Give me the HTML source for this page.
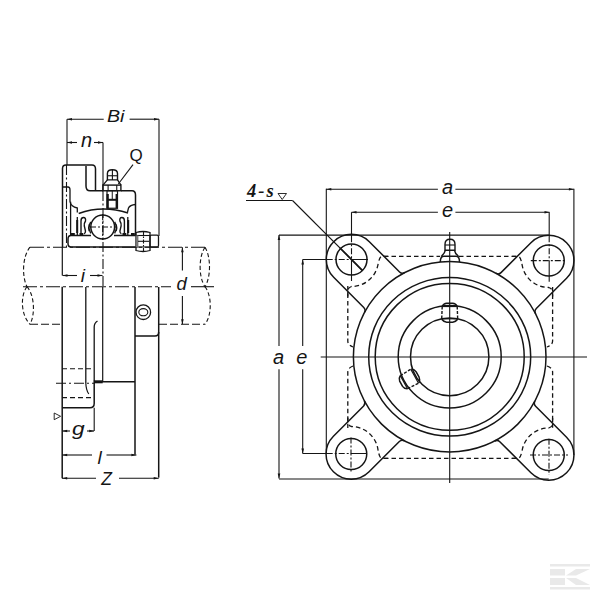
<!DOCTYPE html>
<html><head><meta charset="utf-8"><style>
html,body{margin:0;padding:0;background:#fff;width:600px;height:600px;overflow:hidden}
svg{display:block}
</style></head><body>
<svg width="600" height="600" viewBox="0 0 600 600" stroke="#151515" fill="none" stroke-linecap="butt">
<line x1="279.00" y1="235.10" x2="548.75" y2="235.10" stroke-width="1.1"/>
<line x1="279.00" y1="479.00" x2="548.75" y2="479.00" stroke-width="1.1"/>
<line x1="326.30" y1="188.75" x2="326.30" y2="454.00" stroke-width="1.1"/>
<line x1="573.90" y1="188.75" x2="573.90" y2="455.00" stroke-width="1.1"/>
<line x1="326.00" y1="189.20" x2="437.90" y2="189.20" stroke-width="1.1"/>
<line x1="455.40" y1="189.20" x2="573.75" y2="189.20" stroke-width="1.1"/>
<text transform="translate(442 193.5) scale(1.0 1)" font-family="Liberation Sans" font-size="20" font-style="italic" font-weight="normal" letter-spacing="0" fill="#151515" stroke="none">a</text>
<line x1="351.50" y1="212.20" x2="437.90" y2="212.20" stroke-width="1.1"/>
<line x1="455.40" y1="212.20" x2="549.50" y2="212.20" stroke-width="1.1"/>
<line x1="351.50" y1="212.20" x2="351.50" y2="281.00" stroke-width="1.1" stroke-dasharray="30,2,2,2,6,2,2,2"/>
<line x1="549.20" y1="212.20" x2="549.20" y2="281.70" stroke-width="1.1" stroke-dasharray="30,2,2,2,6,2,2,2"/>
<text transform="translate(442 216.8) scale(1.0 1)" font-family="Liberation Sans" font-size="20" font-style="italic" font-weight="normal" letter-spacing="0" fill="#151515" stroke="none">e</text>
<line x1="279.00" y1="235.10" x2="279.00" y2="346.00" stroke-width="1.1"/>
<line x1="279.00" y1="369.30" x2="279.00" y2="478.60" stroke-width="1.1"/>
<text transform="translate(273 363.7) scale(1.0 1)" font-family="Liberation Sans" font-size="20" font-style="italic" font-weight="normal" letter-spacing="0" fill="#151515" stroke="none">a</text>
<line x1="302.70" y1="259.50" x2="302.70" y2="346.00" stroke-width="1.1"/>
<line x1="302.70" y1="369.30" x2="302.70" y2="453.50" stroke-width="1.1"/>
<line x1="302.70" y1="259.50" x2="368.00" y2="259.50" stroke-width="1.1" stroke-dasharray="30,2,2,2,6,2,2,2"/>
<line x1="302.70" y1="453.50" x2="367.00" y2="453.50" stroke-width="1.1" stroke-dasharray="30,2,2,2,6,2,2,2"/>
<text transform="translate(296.3 363.7) scale(1.0 1)" font-family="Liberation Sans" font-size="20" font-style="italic" font-weight="normal" letter-spacing="0" fill="#151515" stroke="none">e</text>
<line x1="530.80" y1="260.60" x2="566.70" y2="260.60" stroke-width="1.1" stroke-dasharray="6,2,2,2"/>
<line x1="530.00" y1="455.00" x2="568.00" y2="455.00" stroke-width="1.1" stroke-dasharray="6,2,2,2"/>
<line x1="549.00" y1="438.70" x2="549.00" y2="475.00" stroke-width="1.1" stroke-dasharray="6,2,2,2"/>
<line x1="351.00" y1="437.50" x2="351.00" y2="472.50" stroke-width="1.1" stroke-dasharray="6,2,2,2"/>
<line x1="320.70" y1="357.00" x2="587.00" y2="357.00" stroke-width="1.1"/>
<line x1="449.70" y1="232.00" x2="449.70" y2="483.00" stroke-width="1.1"/>
<ellipse cx="449.70" cy="356.80" rx="96.30" ry="95.20" stroke-width="1.5" fill="none"/>
<ellipse cx="449.70" cy="356.80" rx="81.00" ry="79.20" stroke-width="1.5" fill="none"/>
<ellipse cx="449.70" cy="356.80" rx="74.50" ry="73.40" stroke-width="1.5" fill="none"/>
<ellipse cx="449.70" cy="356.80" rx="51.50" ry="51.20" stroke-width="1.5" fill="none"/>
<ellipse cx="449.70" cy="356.80" rx="39.20" ry="38.90" stroke-width="1.5" fill="none"/>
<ellipse cx="351.50" cy="259.50" rx="15.50" ry="15.50" stroke-width="1.5" fill="none"/>
<ellipse cx="548.75" cy="260.50" rx="15.50" ry="15.50" stroke-width="1.5" fill="none"/>
<ellipse cx="351.25" cy="454.00" rx="15.50" ry="15.50" stroke-width="1.5" fill="none"/>
<ellipse cx="548.75" cy="455.00" rx="15.50" ry="15.50" stroke-width="1.5" fill="none"/>
<path d="M404.60,272.59 Q401.83,274.19 399.57,271.93 L369.32,241.68 A25.2,25.2 0 0 0 333.68,241.68 A25.2,25.2 0 0 0 333.68,277.32 L363.77,307.41 Q366.03,309.67 364.46,312.46" stroke-width="1.5" fill="none"/>
<path d="M535.57,313.66 Q534.04,310.85 536.30,308.59 L566.57,278.32 A25.2,25.2 0 0 0 566.57,242.68 A25.2,25.2 0 0 0 530.93,242.68 L501.00,272.61 Q498.74,274.87 496.00,273.23" stroke-width="1.5" fill="none"/>
<path d="M364.34,400.92 Q365.90,403.71 363.64,405.97 L333.43,436.18 A25.2,25.2 0 0 0 333.43,471.82 A25.2,25.2 0 0 0 369.07,471.82 L399.35,441.54 Q401.61,439.28 404.37,440.89" stroke-width="1.5" fill="none"/>
<path d="M494.77,441.03 Q497.54,439.42 499.80,441.69 L530.93,472.82 A25.2,25.2 0 0 0 566.57,472.82 A25.2,25.2 0 0 0 566.57,437.18 L535.61,406.23 Q533.35,403.96 534.92,401.18" stroke-width="1.5" fill="none"/>
<path d="M384,256.3 L440,256.3 M459,256.3 L516,256.3" stroke-width="1.3" fill="none" stroke-dasharray="4.5,3"/>
<path d="M384,458.3 L516,458.3" stroke-width="1.3" fill="none" stroke-dasharray="4.5,3"/>
<path d="M347.8,286 L347.8,341 Q347.8,345 353,347 M353,366 Q347.8,368 347.8,372 L347.8,428" stroke-width="1.3" fill="none" stroke-dasharray="4.5,3"/>
<path d="M552.6,287 L552.6,341 Q552.6,345 547,347 M547,366 Q552.6,368 552.6,372 L552.6,430" stroke-width="1.3" fill="none" stroke-dasharray="4.5,3"/>
<path d="M388.09,256.30 L382.09,256.30 Q379.59,256.30 378.09,264.19 A27.0,27.0 0 0 1 351.50,286.50 Q347.80,288.00 347.80,290.50 L347.80,296.50" stroke-width="1.3" fill="none" stroke-dasharray="4.5,3"/>
<path d="M512.16,256.30 L518.16,256.30 Q520.66,256.30 522.16,265.19 A27.0,27.0 0 0 0 548.75,287.50 Q552.60,289.00 552.60,291.50 L552.60,297.50" stroke-width="1.3" fill="none" stroke-dasharray="4.5,3"/>
<path d="M387.84,458.30 L381.84,458.30 Q379.34,458.30 377.84,448.81 A27.0,27.0 0 0 0 351.25,426.50 Q347.80,425.00 347.80,422.50 L347.80,416.50" stroke-width="1.3" fill="none" stroke-dasharray="4.5,3"/>
<path d="M512.16,458.30 L518.16,458.30 Q520.66,458.30 522.16,450.31 A27.0,27.0 0 0 1 548.75,428.00 Q552.60,426.50 552.60,424.00 L552.60,418.00" stroke-width="1.3" fill="none" stroke-dasharray="4.5,3"/>
<path d="M440.3,262 Q440.3,256.3 444,256.3 L456,256.3 Q459.5,256.3 459.5,262" stroke-width="1.5" fill="none"/>
<path d="M441,256.5 Q444.5,254 445.3,250.3 M458.8,256.5 Q455.2,254 454.5,250.3" stroke-width="1.4" fill="none"/>
<path d="M445,250.3 L445,244.3 Q445,239.3 450,239.3 Q455,239.3 455,244.3 L455,250.3 Z" stroke-width="1.4" fill="none"/>
<line x1="445.00" y1="245.00" x2="455.00" y2="245.00" stroke-width="1.1"/>
<g transform="">
<path d="M442.2,306.5 Q443.7,303.5 446.7,303.3 L452.7,303.3 Q455.7,303.5 457.2,306.5" stroke-width="1.5" fill="none"/>
<path d="M457.7,319.3 Q455.7,322 452.7,322.2 L446.7,322.2 Q443.7,322 441.7,319.3" stroke-width="1.5" fill="none"/>
<path d="M442.2,306.5 L441.7,319.3 M457.2,306.5 L457.7,319.3" stroke-width="1.4" fill="none" stroke-dasharray="3,1.5"/>
<line x1="442.20" y1="306.50" x2="457.20" y2="306.50" stroke-width="1.2"/>
<line x1="441.70" y1="318.80" x2="457.70" y2="318.80" stroke-width="1.2"/>
</g>
<g transform="translate(-1.8 1.0) rotate(-119 449.7 356.8)">
<path d="M442.2,306.5 Q443.7,303.5 446.7,303.3 L452.7,303.3 Q455.7,303.5 457.2,306.5" stroke-width="1.5" fill="none"/>
<path d="M457.7,319.3 Q455.7,322 452.7,322.2 L446.7,322.2 Q443.7,322 441.7,319.3" stroke-width="1.5" fill="none"/>
<path d="M442.2,306.5 L441.7,319.3 M457.2,306.5 L457.7,319.3" stroke-width="1.4" fill="none" stroke-dasharray="3,1.5"/>
<line x1="442.20" y1="306.50" x2="457.20" y2="306.50" stroke-width="1.2"/>
<line x1="441.70" y1="318.80" x2="457.70" y2="318.80" stroke-width="1.2"/>
</g>
<text transform="translate(247 197) scale(1.0 1)" font-family="Liberation Serif" font-size="18.5" font-style="italic" font-weight="bold" letter-spacing="2" fill="#151515" stroke="none">4-s</text>
<path d="M278,193.5 L286.5,193.5 L282.2,199.5 Z" stroke-width="0.9" fill="none"/>
<line x1="246.00" y1="200.50" x2="292.50" y2="200.50" stroke-width="1.1"/>
<line x1="292.50" y1="200.50" x2="362.30" y2="270.30" stroke-width="1.1"/>
<line x1="340.00" y1="248.00" x2="362.30" y2="270.30" stroke-width="1.7"/>
<line x1="67.00" y1="119.20" x2="103.70" y2="119.20" stroke-width="1.1"/>
<line x1="129.60" y1="119.20" x2="159.00" y2="119.20" stroke-width="1.1"/>
<text transform="translate(107 121.5) scale(1.19 1)" font-family="Liberation Sans" font-size="16.5" font-style="italic" font-weight="normal" letter-spacing="0" fill="#151515" stroke="none">Bi</text>
<line x1="67.00" y1="119.20" x2="67.00" y2="165.00" stroke-width="1.1"/>
<line x1="66.50" y1="165.00" x2="66.50" y2="247.00" stroke-width="1.1" stroke-dasharray="10,2.5,2,2.5"/>
<line x1="159.00" y1="119.20" x2="159.00" y2="236.00" stroke-width="1.1"/>
<line x1="67.00" y1="142.50" x2="77.00" y2="142.50" stroke-width="1.1"/>
<line x1="94.00" y1="142.50" x2="103.00" y2="142.50" stroke-width="1.1"/>
<text transform="translate(81 147) scale(1.0 1)" font-family="Liberation Sans" font-size="20" font-style="italic" font-weight="normal" letter-spacing="0" fill="#151515" stroke="none">n</text>
<line x1="103.00" y1="142.50" x2="103.00" y2="191.00" stroke-width="1.1"/>
<line x1="103.00" y1="191.00" x2="103.00" y2="287.00" stroke-width="1.1" stroke-dasharray="10,2.5,2,2.5"/>
<line x1="102.70" y1="287.00" x2="102.70" y2="381.70" stroke-width="1.2"/>
<text transform="translate(129.5 161) scale(1.0 1)" font-family="Liberation Sans" font-size="17" font-style="normal" font-weight="normal" letter-spacing="0" fill="#151515" stroke="none">Q</text>
<line x1="133.00" y1="164.70" x2="118.30" y2="184.00" stroke-width="1.1"/>
<path d="M62.5,247 L62.5,168.5 Q62.5,165 66,165 L92,165 Q95.5,165 95.5,169 L95.5,190.75 M86,166 L86,186 Q86,190.75 90,190.75 L103,190.75 M121,190.75 L132,190.75 Q135.5,190.75 135.5,195 L135.5,235.5" stroke-width="1.5" fill="none"/>
<path d="M135.5,204.5 Q130,205 128.5,208 L127.5,212 M127.8,217 L127.8,235" stroke-width="1.3" fill="none"/>
<path d="M62.5,187 L68,187 Q70,187 70,190 L70,201.7 Q71,207 77.3,208 L77.3,212.5 M77.3,217 L77.3,235" stroke-width="1.3" fill="none"/>
<path d="M78.7,213.5 Q102.7,205 128,213" stroke-width="1.5" fill="none"/>
<ellipse cx="102.70" cy="227.00" rx="11.90" ry="11.90" stroke-width="1.5" fill="none"/>
<line x1="90.00" y1="227.00" x2="116.00" y2="227.00" stroke-width="1.1" stroke-dasharray="6,2,2,2"/>
<line x1="102.70" y1="214.00" x2="102.70" y2="240.00" stroke-width="1.1" stroke-dasharray="6,2,2,2"/>
<path d="M135.5,235.5 L114,235.5 M91,235.5 L71,235.5 Q68,235.5 68,239 L68,243.5 Q68,247 71,247 L135.5,247" stroke-width="1.5" fill="none"/>
<path d="M81,233.5 L81,221 Q81,217.5 83.5,217.5 Q86,217.5 85.5,221 Q84,223 84.3,226 L85.5,231 Q85.5,233.5 84,233.8" stroke-width="1.4" fill="none"/>
<path d="M 124.40,233.50 L 124.40,221.00 Q 124.40,217.50 121.90,217.50 Q 119.40,217.50 119.90,221.00 Q 121.40,223.00 121.10,226.00 L 119.90,231.00 Q 119.90,233.50 121.40,233.80" stroke-width="1.4" fill="none"/>
<path d="M90.8,222 Q87.3,227.5 90.8,233.3 M89.2,224.5 Q88.2,227.5 89.2,231" stroke-width="1.4" fill="none"/>
<path d="M 114.60,222.00 Q 118.10,227.50 114.60,233.30 M 116.20,224.50 Q 117.20,227.50 116.20,231.00" stroke-width="1.4" fill="none"/>
<line x1="70.60" y1="201.70" x2="70.60" y2="235.50" stroke-width="1.3"/>
<rect x="76.2" y="220" width="2" height="13" fill="#151515" stroke="none"/>
<rect x="127.2" y="220" width="2" height="13" fill="#151515" stroke="none"/>
<rect x="71" y="233" width="3.8" height="2.5" fill="#151515" stroke="none"/>
<rect x="79.5" y="233" width="3.8" height="2.5" fill="#151515" stroke="none"/>
<rect x="122.5" y="233" width="3.8" height="2.5" fill="#151515" stroke="none"/>
<rect x="131" y="233" width="3.8" height="2.5" fill="#151515" stroke="none"/>
<path d="M107.4,179.9 L107.4,173.5 Q107.4,169.75 112.4,169.75 Q117.5,169.75 117.5,173.5 L117.5,179.9 Z" stroke-width="1.4" fill="none"/>
<line x1="107.40" y1="175.75" x2="117.50" y2="175.75" stroke-width="1.1"/>
<line x1="112.40" y1="169.75" x2="112.40" y2="179.90" stroke-width="1.1"/>
<path d="M107.4,179.9 L103,185.1 M117.5,179.9 L121,185.1" stroke-width="1.3" fill="none"/>
<rect x="102.9" y="185.1" width="18" height="5.65" stroke-width="1.4" fill="none"/>
<line x1="108.10" y1="185.10" x2="108.10" y2="190.75" stroke-width="1.1"/>
<line x1="116.75" y1="185.10" x2="116.75" y2="190.75" stroke-width="1.1"/>
<rect x="107" y="190.75" width="10.5" height="17.5" stroke-width="1.2" fill="none"/>
<rect x="106.5" y="194" width="2.3" height="14.5" fill="#151515" stroke="none"/>
<rect x="115.6" y="194" width="2.3" height="14.5" fill="#151515" stroke="none"/>
<line x1="107.00" y1="199.80" x2="117.50" y2="199.80" stroke-width="2.0"/>
<line x1="112.25" y1="190.75" x2="112.25" y2="199.00" stroke-width="1.0"/>
<path d="M136,235.5 L136,232.5 Q143,230.5 150,232.5 L150,250.5 Q143,252.5 136,250.5 Z" stroke-width="1.3" fill="none"/>
<line x1="136.00" y1="235.50" x2="150.00" y2="235.50" stroke-width="1.1"/>
<line x1="136.00" y1="247.00" x2="150.00" y2="247.00" stroke-width="1.1"/>
<rect x="136" y="235.5" width="2.4" height="11.5" fill="#777" stroke="none"/>
<rect x="150" y="235.2" width="8.5" height="11.8" rx="1.5" stroke-width="1.3" fill="none"/>
<line x1="143.50" y1="231.00" x2="143.50" y2="252.00" stroke-width="1.1" stroke-dasharray="4,1.5,1.5,1.5"/>
<line x1="138.00" y1="241.30" x2="149.00" y2="241.30" stroke-width="1.1"/>
<line x1="30.00" y1="247.20" x2="205.00" y2="247.20" stroke-width="1.1" stroke-dasharray="14,3,3,3"/>
<line x1="23.00" y1="286.70" x2="171.00" y2="286.70" stroke-width="1.1" stroke-dasharray="14,3,3,3"/>
<line x1="191.00" y1="286.70" x2="214.00" y2="286.70" stroke-width="1.1"/>
<line x1="30.00" y1="324.30" x2="62.00" y2="324.30" stroke-width="1.1" stroke-dasharray="8,3"/>
<line x1="159.00" y1="324.30" x2="205.00" y2="324.30" stroke-width="1.1" stroke-dasharray="8,3"/>
<path d="M30,247.2 C22,257 22,277 27,286.7" stroke-width="1.1" fill="none" stroke-dasharray="4,2.5"/>
<path d="M27,286.7 C35,296 35,315 30,324.3 M27,286.7 C20,296 21,315 30,324.3" stroke-width="1.1" fill="none" stroke-dasharray="4,2.5"/>
<path d="M205,247.2 C198.5,257 198.5,277 205,286.7 C211,277 211,257 205,247.2" stroke-width="1.1" fill="none" stroke-dasharray="4,2.5"/>
<path d="M205,286.7 C212,296 212,315 205,324.3" stroke-width="1.1" fill="none" stroke-dasharray="4,2.5"/>
<line x1="62.50" y1="275.50" x2="77.00" y2="275.50" stroke-width="1.1"/>
<line x1="90.00" y1="275.50" x2="102.50" y2="275.50" stroke-width="1.1"/>
<text transform="translate(80.8 281.8) scale(1.0 1)" font-family="Liberation Sans" font-size="19" font-style="italic" font-weight="normal" letter-spacing="0" fill="#151515" stroke="none">i</text>
<line x1="182.40" y1="247.20" x2="182.40" y2="270.50" stroke-width="1.1"/>
<line x1="182.40" y1="296.00" x2="182.40" y2="324.30" stroke-width="1.1"/>
<text transform="translate(176.5 290.2) scale(1.0 1)" font-family="Liberation Sans" font-size="18.5" font-style="italic" font-weight="normal" letter-spacing="0" fill="#151515" stroke="none">d</text>
<line x1="62.30" y1="247.00" x2="62.30" y2="275.50" stroke-width="1.2"/>
<line x1="62.20" y1="286.70" x2="62.20" y2="478.30" stroke-width="1.5"/>
<line x1="85.80" y1="287.00" x2="85.80" y2="383.00" stroke-width="1.3"/>
<path d="M97.5,321 Q94.2,323 94.2,327 L94.2,380" stroke-width="1.3" fill="none"/>
<path d="M85.8,383 Q86,390 88.8,394" stroke-width="1.2" fill="none"/>
<line x1="135.00" y1="287.00" x2="135.00" y2="454.60" stroke-width="1.5"/>
<line x1="158.70" y1="287.00" x2="158.70" y2="477.60" stroke-width="1.5"/>
<path d="M135,336 L155,336 Q158.7,336 158.7,332" stroke-width="1.5" fill="none"/>
<path d="M94.2,381.7 L135,381.7" stroke-width="1.5" fill="none"/>
<rect x="94" y="380.3" width="8.7" height="3" fill="#151515" stroke="none"/>
<ellipse cx="143.30" cy="312.20" rx="7.30" ry="7.30" stroke-width="1.3" fill="none"/>
<ellipse cx="143.30" cy="312.20" rx="4.50" ry="3.60" stroke-width="1.1" fill="none"/>
<line x1="62.00" y1="368.75" x2="94.00" y2="368.75" stroke-width="1.1" stroke-dasharray="5,3"/>
<line x1="56.00" y1="383.30" x2="94.00" y2="383.30" stroke-width="1.1" stroke-dasharray="10,3,2,3"/>
<line x1="62.00" y1="397.60" x2="94.00" y2="397.60" stroke-width="1.1" stroke-dasharray="5,3"/>
<path d="M62.2,407.8 L90,407.8 Q94.2,407.8 94.2,403.6 L94.2,380" stroke-width="1.5" fill="none"/>
<path d="M54.2,413 L54.2,419.7 L60.6,416.3 Z" stroke-width="0.9" fill="none"/>
<line x1="62.00" y1="431.00" x2="70.00" y2="431.00" stroke-width="1.1"/>
<line x1="87.00" y1="431.00" x2="94.00" y2="431.00" stroke-width="1.1"/>
<line x1="94.20" y1="407.80" x2="94.20" y2="431.00" stroke-width="1.1"/>
<text transform="translate(72 434.5) scale(1.2 1)" font-family="Liberation Sans" font-size="19" font-style="italic" font-weight="normal" letter-spacing="0" fill="#151515" stroke="none">g</text>
<line x1="62.00" y1="455.00" x2="92.00" y2="455.00" stroke-width="1.1"/>
<line x1="106.50" y1="455.00" x2="136.40" y2="455.00" stroke-width="1.1"/>
<text transform="translate(97.5 464.3) scale(1.0 1)" font-family="Liberation Sans" font-size="19" font-style="italic" font-weight="normal" letter-spacing="0" fill="#151515" stroke="none">l</text>
<line x1="62.00" y1="478.30" x2="96.00" y2="478.30" stroke-width="1.1"/>
<line x1="119.00" y1="478.30" x2="158.70" y2="478.30" stroke-width="1.1"/>
<text transform="translate(101.25 485.2) scale(1.0 1)" font-family="Liberation Sans" font-size="17.5" font-style="italic" font-weight="normal" letter-spacing="0" fill="#151515" stroke="none">Z</text>
<polygon points="326.30,189.20 331.30,187.90 331.30,190.50" fill="#151515" stroke="none"/>
<polygon points="573.90,189.20 568.90,190.50 568.90,187.90" fill="#151515" stroke="none"/>
<polygon points="351.50,212.20 356.50,210.90 356.50,213.50" fill="#151515" stroke="none"/>
<polygon points="549.50,212.20 544.50,213.50 544.50,210.90" fill="#151515" stroke="none"/>
<polygon points="279.00,235.10 280.30,240.10 277.70,240.10" fill="#151515" stroke="none"/>
<polygon points="279.00,478.60 277.70,473.60 280.30,473.60" fill="#151515" stroke="none"/>
<polygon points="302.70,259.50 304.00,264.50 301.40,264.50" fill="#151515" stroke="none"/>
<polygon points="302.70,453.50 301.40,448.50 304.00,448.50" fill="#151515" stroke="none"/>
<polygon points="67.00,119.20 72.00,117.90 72.00,120.50" fill="#151515" stroke="none"/>
<polygon points="159.00,119.20 154.00,120.50 154.00,117.90" fill="#151515" stroke="none"/>
<polygon points="67.00,142.50 72.00,141.20 72.00,143.80" fill="#151515" stroke="none"/>
<polygon points="103.00,142.50 98.00,143.80 98.00,141.20" fill="#151515" stroke="none"/>
<polygon points="62.50,275.50 67.50,274.20 67.50,276.80" fill="#151515" stroke="none"/>
<polygon points="102.50,275.50 97.50,276.80 97.50,274.20" fill="#151515" stroke="none"/>
<polygon points="182.40,247.20 183.70,252.20 181.10,252.20" fill="#151515" stroke="none"/>
<polygon points="182.40,324.30 181.10,319.30 183.70,319.30" fill="#151515" stroke="none"/>
<polygon points="62.20,431.00 67.20,429.70 67.20,432.30" fill="#151515" stroke="none"/>
<polygon points="94.20,431.00 89.20,432.30 89.20,429.70" fill="#151515" stroke="none"/>
<polygon points="62.20,455.00 67.20,453.70 67.20,456.30" fill="#151515" stroke="none"/>
<polygon points="136.40,455.00 131.40,456.30 131.40,453.70" fill="#151515" stroke="none"/>
<polygon points="62.20,478.30 67.20,477.00 67.20,479.60" fill="#151515" stroke="none"/>
<polygon points="158.70,478.30 153.70,479.60 153.70,477.00" fill="#151515" stroke="none"/>
<g fill="#e9e9e9" stroke="none"><rect x="550" y="564" width="40" height="2.5"/><rect x="550" y="587" width="40" height="2.5"/><rect x="550" y="569" width="15" height="6.5"/><rect x="550" y="578" width="15" height="7"/><polygon points="566,575.5 576,569 590,569 576,575.5"/><polygon points="566,578 576,578 590,585 576,585"/></g>
</svg>
</body></html>
